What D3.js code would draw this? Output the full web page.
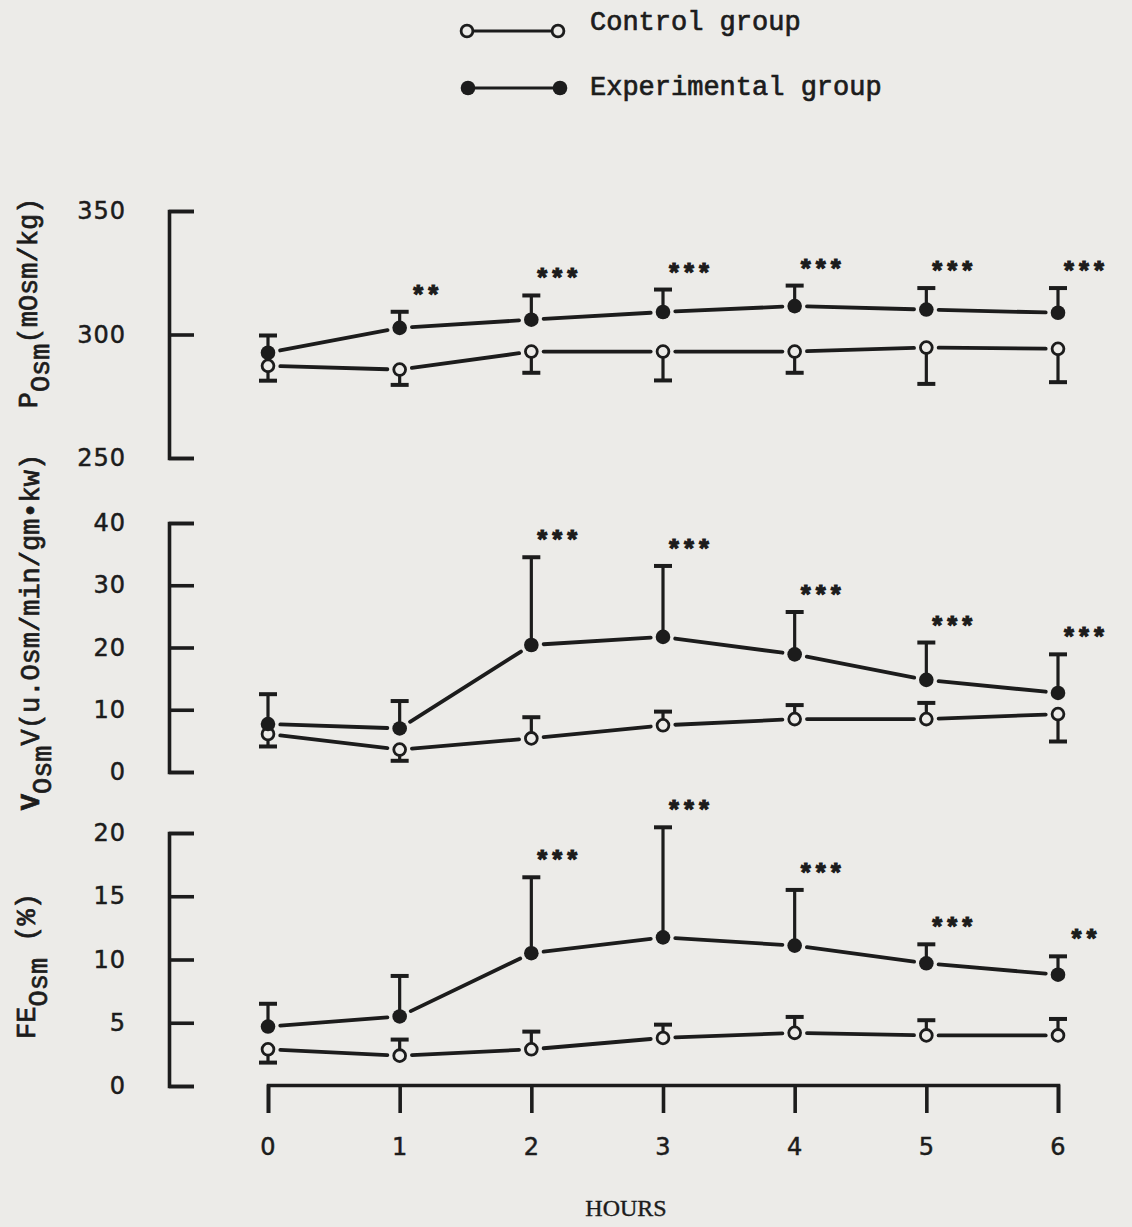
<!DOCTYPE html>
<html>
<head>
<meta charset="utf-8">
<script src="https://cdn.jsdelivr.net/npm/d3@7"></script>
<style>
  html, body { margin: 0; padding: 0; background: #ecebe8; }
  svg { display: block; }
</style>
</head>
<body>
<svg id="chart" width="1132" height="1227"></svg>
<script>
// ---- data ----
const hours = [0, 1, 2, 3, 4, 5, 6];
const hourLabels = ["0", "1", "2", "3", "4", "5", "6"];

// Plasma osmolality (mOsm/kg)
const pCtrl   = [287.3, 285.8, 293.1, 293.1, 293.1, 294.7, 294.2];
const pCtrlSD = [6.0, 6.2, 8.6, 11.7, 8.6, 14.7, 13.5];
const pCtrlSide = [-1, -1, -1, -1, -1, -1, -1];
const pExp    = [292.6, 302.7, 306.0, 309.1, 311.5, 310.1, 308.8];
const pExpSD  = [7.0, 6.5, 9.8, 9.1, 8.3, 8.7, 10.0];
const pSig    = ["", "**", "***", "***", "***", "***", "***"];
const pTicks  = [250, 300, 350];

// Osmolar excretion
const vCtrl   = [6.1, 3.6, 5.4, 7.5, 8.5, 8.5, 9.3];
const vCtrlSD = [2.0, 1.8, 3.4, 2.2, 2.25, 2.6, 4.4];
const vCtrlSide = [-1, -1, 1, 1, 1, 1, -1];
const vExp    = [7.7, 7.0, 20.4, 21.7, 18.9, 14.8, 12.7];
const vExpSD  = [4.8, 4.4, 14.1, 11.4, 6.8, 6.0, 6.2];
const vSig    = ["", "", "***", "***", "***", "***", "***"];
const vTicks  = [0, 10, 20, 30, 40];

// Fractional excretion of osmoles (%)
const feCtrl   = [2.9, 2.4, 2.9, 3.8, 4.2, 4.0, 4.0];
const feCtrlSD = [1.05, 1.27, 1.4, 1.05, 1.26, 1.2, 1.3];
const feCtrlSide = [-1, 1, 1, 1, 1, 1, 1];
const feExp    = [4.7, 5.5, 10.5, 11.75, 11.1, 9.7, 8.8];
const feExpSD  = [1.8, 3.2, 6.0, 8.7, 4.4, 1.5, 1.45];
const feSig    = ["", "", "***", "***", "***", "***", "**"];
const feTicks  = [0, 5, 10, 15, 20];

const legendNames = ["Control group", "Experimental group"];

// ---- drawing ----
const INK = "#1c1c1c";
const BG = "#ecebe8";
const MONO = "'Liberation Mono', 'DejaVu Sans Mono', monospace";
const SANS = "'DejaVu Sans', sans-serif";
const SERIF = "'Liberation Serif', serif";

const svg = d3.select("#chart");
svg.append("rect").attr("width", 1132).attr("height", 1227).attr("fill", BG);

const x = d3.scaleLinear().domain([0, 6]).range([268, 1058]);
const AXIS_X = 169;
const R = 7.3;

const panels = [
  { y: d3.scaleLinear().domain([250, 350]).range([458, 211]), ticks: pTicks,
    ctrl: pCtrl, ctrlSD: pCtrlSD, ctrlSide: pCtrlSide, exp: pExp, expSD: pExpSD, sig: pSig,
    label: { main: "P", sub: "Osm", rest: "(mOsm/kg)", cx: 37, cy: 303, boldMain: false } },
  { y: d3.scaleLinear().domain([0, 40]).range([772, 523]), ticks: vTicks,
    ctrl: vCtrl, ctrlSD: vCtrlSD, ctrlSide: vCtrlSide, exp: vExp, expSD: vExpSD, sig: vSig,
    label: { main: "V", sub: "Osm", rest: "V(u.Osm/min/gm\u2022kw)", cx: 39, cy: 632, boldMain: true } },
  { y: d3.scaleLinear().domain([0, 20]).range([1086, 833]), ticks: feTicks,
    ctrl: feCtrl, ctrlSD: feCtrlSD, ctrlSide: feCtrlSide, exp: feExp, expSD: feExpSD, sig: feSig,
    label: { main: "FE", sub: "Osm", rest: " (%)", cx: 35, cy: 966, boldMain: false } }
];

// line segments that stop short of the markers
function gappedSegments(g, xs, ys, gap) {
  for (let i = 0; i < xs.length - 1; i++) {
    const x1 = xs[i], y1 = ys[i], x2 = xs[i + 1], y2 = ys[i + 1];
    const dx = x2 - x1, dy = y2 - y1, len = Math.hypot(dx, dy);
    const ux = dx / len, uy = dy / len;
    g.append("line")
      .attr("x1", x1 + ux * gap).attr("y1", y1 + uy * gap)
      .attr("x2", x2 - ux * gap).attr("y2", y2 - uy * gap)
      .attr("stroke", INK).attr("stroke-width", 3.8).attr("stroke-linecap", "round");
  }
}

function errorBar(g, cx, cy, yEnd) {
  const dir = yEnd < cy ? -1 : 1;
  g.append("line").attr("x1", cx).attr("x2", cx)
    .attr("y1", cy + dir * (R - 1)).attr("y2", yEnd)
    .attr("stroke", INK).attr("stroke-width", 3.2);
  g.append("line").attr("x1", cx - 9).attr("x2", cx + 9)
    .attr("y1", yEnd).attr("y2", yEnd)
    .attr("stroke", INK).attr("stroke-width", 4);
}

panels.forEach(p => {
  const g = svg.append("g");
  const y = p.y;

  // y axis bracket with inward ticks
  g.append("g")
    .attr("transform", `translate(${AXIS_X},0)`)
    .call(d3.axisRight(y).tickValues(p.ticks).tickSize(25).tickSizeOuter(25).tickFormat(""))
    .call(a => a.selectAll("path, line").attr("stroke", INK).attr("stroke-width", 3.6));

  // y tick labels
  g.selectAll("text.tick").data(p.ticks).join("text")
    .attr("x", 126).attr("y", d => y(d))
    .attr("text-anchor", "end").attr("dominant-baseline", "central")
    .attr("font-family", SANS).attr("font-size", 24).attr("letter-spacing", 1)
    .attr("stroke", INK).attr("stroke-width", 0.5)
    .attr("fill", INK).text(d => d);

  // y title (rotated, with subscript)
  const L = p.label;
  const t = g.append("text")
    .attr("transform", `translate(${L.cx},${L.cy}) rotate(-90)`)
    .attr("text-anchor", "middle")
    .attr("font-family", MONO).attr("font-size", 27).attr("fill", INK)
    .attr("stroke", INK).attr("stroke-width", 0.7);
  t.append("tspan").text(L.main).attr("font-weight", L.boldMain ? "bold" : "normal");
  t.append("tspan").text(L.sub).attr("dy", 12);
  t.append("tspan").text(L.rest).attr("dy", -12);

  const xs = hours.map(h => x(h));
  const yc = p.ctrl.map(v => y(v));
  const ye = p.exp.map(v => y(v));

  // connecting lines
  gappedSegments(g, xs, yc, R + 5);
  gappedSegments(g, xs, ye, R + 5);

  // error bars
  hours.forEach((h, i) => {
    errorBar(g, xs[i], yc[i], y(p.ctrl[i] + p.ctrlSide[i] * p.ctrlSD[i]));
    errorBar(g, xs[i], ye[i], y(p.exp[i] + p.expSD[i]));
  });

  // markers
  g.selectAll("circle.ctrl").data(hours).join("circle")
    .attr("cx", (d, i) => xs[i]).attr("cy", (d, i) => yc[i]).attr("r", R - 1.4)
    .attr("fill", BG).attr("stroke", INK).attr("stroke-width", 2.8);
  g.selectAll("circle.exp").data(hours).join("circle")
    .attr("cx", (d, i) => xs[i]).attr("cy", (d, i) => ye[i]).attr("r", R)
    .attr("fill", INK);

  // significance marks above the experimental error bars
  g.selectAll("text.sig").data(p.sig).join("text")
    .attr("x", (d, i) => xs[i] + 26)
    .attr("y", (d, i) => y(p.exp[i] + p.expSD[i]) - 22 + 14)
    .attr("text-anchor", "middle")
    .attr("font-family", MONO).attr("font-weight", "bold").attr("font-size", 25)
    .attr("letter-spacing", 0)
    .attr("stroke", INK).attr("stroke-width", 1.2)
    .attr("fill", INK).text(d => d);
});

// x axis
const xa = svg.append("g").attr("transform", "translate(0,1085)")
  .call(d3.axisBottom(x).tickValues(hours).tickSize(28).tickSizeOuter(28).tickFormat(""));
xa.selectAll("path, line").attr("stroke", INK).attr("stroke-width", 3.6);

svg.selectAll("text.xlab").data(hours).join("text")
  .attr("x", d => x(d)).attr("y", 1147)
  .attr("text-anchor", "middle").attr("dominant-baseline", "central")
  .attr("font-family", SANS).attr("font-size", 24)
  .attr("stroke", INK).attr("stroke-width", 0.5)
  .attr("fill", INK).text((d, i) => hourLabels[i]);

svg.append("text").attr("x", 626).attr("y", 1216)
  .attr("text-anchor", "middle")
  .attr("font-family", SERIF).attr("font-size", 24)
  .attr("stroke", INK).attr("stroke-width", 0.4)
  .attr("fill", INK).text("HOURS");

// legend
const legend = svg.append("g");
const legRows = [
  { name: legendNames[0], y: 31, filled: false, x1: 467, x2: 558, ty: 30 },
  { name: legendNames[1], y: 88, filled: true, x1: 468, x2: 560, ty: 95 }
];
legRows.forEach(r => {
  legend.append("line").attr("x1", r.x1).attr("x2", r.x2).attr("y1", r.y).attr("y2", r.y)
    .attr("stroke", INK).attr("stroke-width", 3.2);
  [r.x1, r.x2].forEach(cx => {
    const c = legend.append("circle").attr("cx", cx).attr("cy", r.y);
    if (r.filled) c.attr("r", R).attr("fill", INK);
    else c.attr("r", R - 1.4).attr("fill", BG).attr("stroke", INK).attr("stroke-width", 2.8);
  });
  legend.append("text").attr("x", 590).attr("y", r.ty)
    .attr("font-family", MONO).attr("font-size", 27).attr("fill", INK)
    .attr("stroke", INK).attr("stroke-width", 0.7).text(r.name);
});
</script>
</body>
</html>
